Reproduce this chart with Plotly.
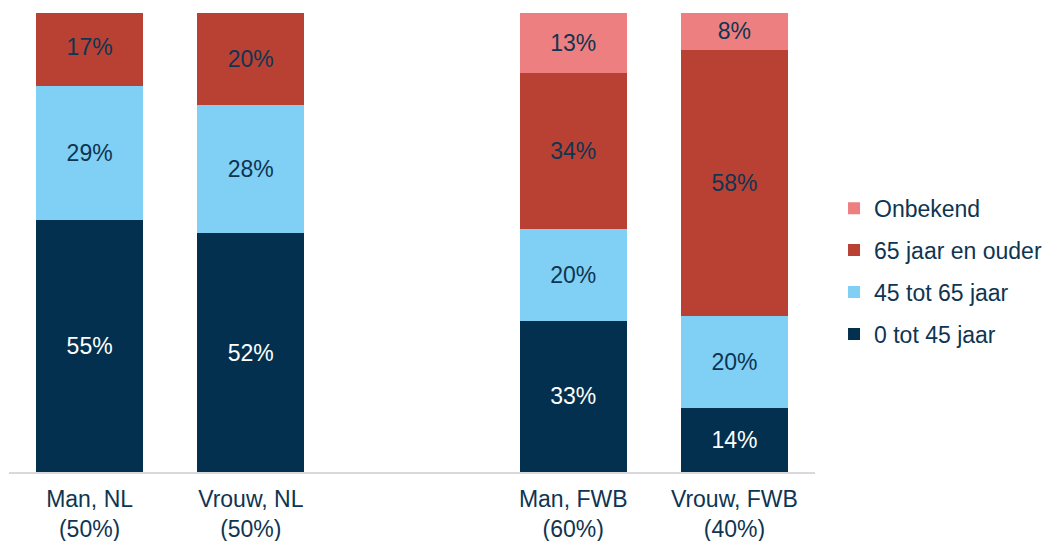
import plotly.graph_objects as go

# Groups shown on the x axis; the blank entry separates NL from FWB
categories = ["Man, NL<br>(50%)", "Vrouw, NL<br>(50%)", " ",
              "Man, FWB<br>(60%)", "Vrouw, FWB<br>(40%)"]
bar_categories = ["Man, NL<br>(50%)", "Vrouw, NL<br>(50%)",
                  "Man, FWB<br>(60%)", "Vrouw, FWB<br>(40%)"]

# Age-group shares (%) per group
age_0_45 = [55, 52, 33, 14]
age_45_65 = [29, 28, 20, 20]
age_65_plus = [17, 20, 34, 58]
unknown = [None, None, 13, 8]

series = [
    ("0 tot 45 jaar", age_0_45, "#02304E", "#FFFFFF"),
    ("45 tot 65 jaar", age_45_65, "#80CFF4", "#0E3551"),
    ("65 jaar en ouder", age_65_plus, "#B94134", "#0E3551"),
    ("Onbekend", unknown, "#EE7F80", "#0E3551"),
]

FONT = "Liberation Sans, Arial, sans-serif"

fig = go.Figure()
n = len(series)
for i, (name, values, color, txt_color) in enumerate(series):
    fig.add_trace(go.Bar(
        name=name,
        x=bar_categories,
        y=values,
        marker=dict(color=color, line=dict(width=0)),
        text=[f"{v}%" if v is not None else "" for v in values],
        textposition="inside",
        insidetextanchor="middle",
        textangle=0,
        constraintext="none",
        textfont=dict(family=FONT, size=23, color=txt_color),
        legendgroup=name,
        legendrank=n - i,
        hoverinfo="skip",
    ))

fig.update_layout(
    barmode="stack",
    bargap=0.336,
    width=1057,
    height=541,
    margin=dict(l=9, r=242, t=13, b=69),
    paper_bgcolor="white",
    plot_bgcolor="white",
    font=dict(family=FONT, size=23, color="#0E3551"),
    showlegend=True,
    legend=dict(
        traceorder="grouped",
        tracegroupgap=9,
        x=1.0236,
        xanchor="left",
        y=0.4374,
        yanchor="middle",
        font=dict(family=FONT, size=23, color="#0E3551"),
        bgcolor="rgba(0,0,0,0)",
    ),
    uniformtext=dict(mode=False),
)

fig.update_xaxes(
    type="category",
    categoryorder="array",
    categoryarray=categories,
    automargin=False,
    showline=True,
    linecolor="#D9D9D9",
    linewidth=2,
    ticks="",
    ticklabelstandoff=5,
    showgrid=False,
    tickfont=dict(family=FONT, size=23, color="#0E3551"),
)
fig.update_yaxes(
    range=[0, 100],
    visible=False,
    showgrid=False,
)

fig.write_html("out.html")
